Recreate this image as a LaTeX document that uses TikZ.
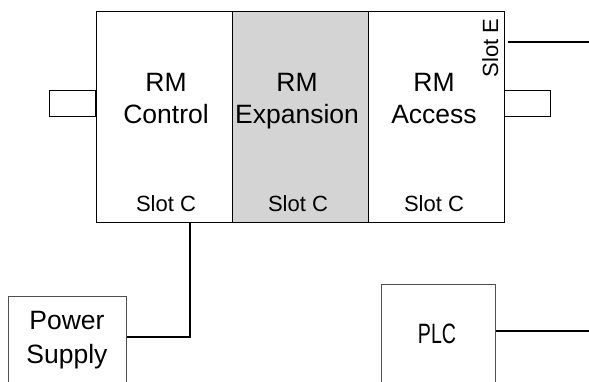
\documentclass[tikz,border=0pt]{standalone}
\usepackage{fontspec}
\setmainfont{Liberation Sans}
\usepackage{graphicx}
\definecolor{boxgray}{RGB}{212,212,212}
\definecolor{edgegray}{RGB}{80,80,80}
\begin{document}
\begin{tikzpicture}[x=1pt,y=-1pt,
  modbox/.style={draw=black,line width=1.2pt,minimum width=136pt,minimum height=211pt,inner sep=0pt,anchor=north west},
  stub/.style={draw=black,line width=0.9pt,minimum width=46pt,minimum height=26pt,inner sep=0pt},
  extbox/.style={draw=edgegray,line width=1pt,inner sep=0pt,anchor=north west},
  bigtxt/.style={font=\fontsize{26.5}{31.5}\selectfont,inner sep=0pt,align=center,anchor=base},
  slottxt/.style={font=\fontsize{22}{26}\selectfont,inner sep=0pt,anchor=base},
  wire/.style={draw=black,line width=1.8pt}]
\useasboundingbox (0,0) rectangle (589,381);
\clip (0,0) rectangle (589,381);
% module boxes
\node[modbox] (ctl) at (96,11) {};
\node[modbox,fill=boxgray] (exp) at (232,11) {};
\node[modbox] (acc) at (368,11) {};
% stubs
\node[stub,anchor=east] (lstub) at (96,103) {};
\node[stub,anchor=west] (rstub) at (504,103) {};
% texts (base anchor = baseline of the last line)
\node[bigtxt] (t1) at (166,123) {RM\\Control};
\node[bigtxt] (t2) at (297,123) {RM\\Expansion};
\node[bigtxt] (t3) at (434,123) {RM\\Access};
\node[slottxt] (s1) at (166,211) {Slot C};
\node[slottxt] (s2) at (298,211) {Slot C};
\node[slottxt] (s3) at (434,211) {Slot C};
\node[slottxt,rotate=90] (s4) at (498,48) {Slot E};
% external boxes
\node[extbox,minimum width=118pt,minimum height=120pt] (ps) at (8,296) {};
\node[bigtxt,font=\fontsize{26.5}{34}\selectfont] (pst) at (67,363) {Power\\Supply};
\node[extbox,minimum width=114pt,minimum height=120pt] (plc) at (381,284) {};
\node[inner sep=0pt,anchor=base] (plct) at (437,343) {\scalebox{0.7}[1]{\fontsize{28}{30}\selectfont PLC}};
% connectors
\coordinate (j) at (190,337);
\coordinate (e1) at (589,42);
\coordinate (e2) at (589,331);
\draw[wire] (ctl.south -| j) -- (j) -- (ps.east |- j);
\draw[wire,line width=1.4pt] ([xshift=3pt]acc.east |- e1) -- (e1);
\draw[wire,line width=1.4pt] (plc.east |- e2) -- (e2);
\end{tikzpicture}
\end{document}
